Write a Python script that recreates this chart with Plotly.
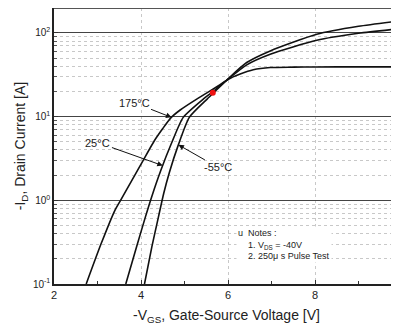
import plotly.graph_objects as go
import math

# --- data ---
vgs_175 = [2.74, 3.08, 3.40, 3.53, 3.79, 4.05, 4.31, 4.50, 4.68, 4.90, 5.28, 5.78, 6.0, 6.28, 6.58, 6.97, 7.5, 8.0, 9.0, 9.93]
id_175 = [0.1, 0.3, 0.76, 1.0, 1.73, 3.0, 5.18, 7.2, 9.6, 12.0, 16.2, 23.4, 27.8, 32.2, 36.3, 38.6, 39.0, 39.2, 39.3, 39.3]

vgs_25 = [3.65, 3.90, 4.10, 4.25, 4.45, 4.70, 4.97, 5.43, 5.65, 6.0, 6.43, 6.97, 8.04, 9.0, 9.93]
id_25 = [0.1, 0.28, 0.63, 1.12, 2.24, 4.8, 9.8, 16.2, 19.8, 28.0, 41.6, 55.7, 81.8, 99.0, 112.0]

vgs_m55 = [4.08, 4.25, 4.40, 4.52, 4.65, 4.85, 5.11, 5.52, 5.68, 6.0, 6.43, 6.97, 8.04, 9.0, 9.93]
id_m55 = [0.1, 0.28, 0.63, 1.2, 2.14, 4.47, 9.8, 16.2, 19.5, 28.3, 44.3, 61.0, 96.4, 120.0, 139.0]

red_point_x = [5.65]
red_point_y = [19.3]

x_ticks = [2, 4, 6, 8]
y_tickvals = [0.1, 1, 10, 100]
y_ticktext = ["10<sup>-1</sup>", "10<sup>0</sup>", "10<sup>1</sup>", "10<sup>2</sup>"]

FONT = "Liberation Sans, Arial, sans-serif"

fig = go.Figure()
for xs, ys in [(vgs_175, id_175), (vgs_25, id_25), (vgs_m55, id_m55)]:
    fig.add_trace(go.Scatter(x=xs, y=ys, mode="lines",
                             line=dict(color="#111", width=1.6, shape="spline", smoothing=0.6),
                             showlegend=False, hoverinfo="skip"))
fig.add_trace(go.Scatter(x=red_point_x, y=red_point_y, mode="markers",
                         marker=dict(color="#ee1111", size=6), showlegend=False))

ann_font = dict(family=FONT, size=11, color="#222")
labels = [
    ("175°C", 4.70, 9.8, 3.84, 1.167),
    ("25°C", 4.50, 2.6, 3.01, 0.69),
    ("-55°C", 4.86, 4.6, 5.77, 0.393),
]
for txt, tx, ty, ax, ay in labels:
    fig.add_annotation(x=tx, y=math.log10(ty), ax=ax, ay=ay, axref="x", ayref="y",
                       xref="x", yref="y", text=txt, showarrow=True,
                       arrowhead=2, arrowsize=1.1, arrowwidth=1, arrowcolor="#111",
                       font=ann_font, standoff=0, startstandoff=0)

fig.add_annotation(xref="paper", yref="paper", x=0.528, y=0.21, xanchor="left", yanchor="top",
                   align="left", showarrow=False, bgcolor="white",
                   text="u  Notes :<br>    1. V<sub>DS</sub> = -40V<br>    2. 250μ s Pulse Test",
                   font=dict(family=FONT, size=9, color="#222"))

fig.add_shape(type="line", xref="paper", yref="paper", x0=0, x1=1, y0=1, y1=1,
              line=dict(color="#555", width=2))

fig.update_layout(
    width=399, height=334,
    margin=dict(l=46, r=8, t=0, b=58),
    plot_bgcolor="white", paper_bgcolor="white",
    font=dict(family=FONT, size=11, color="#222"),
    xaxis=dict(range=[2, 9.93], tickvals=x_ticks, ticks="inside", ticklen=4, tickcolor="#333",
               showgrid=True, gridcolor="#c8c8c8", griddash="dot", gridwidth=1,
               showline=True, linecolor="#222", linewidth=1.5, zeroline=False, automargin=False,
               minor=dict(dtick=1, ticks="inside", ticklen=3, tickcolor="#333", showgrid=False),
               title=dict(text="-V<sub>GS</sub>, Gate-Source Voltage [V]", font=dict(size=14), standoff=10),
               tickfont=dict(size=11)),
    yaxis=dict(type="log", range=[-1, 2.298], tickvals=y_tickvals, ticktext=y_ticktext,
               ticks="inside", ticklen=4, tickcolor="#333",
               showgrid=True, gridcolor="#444", gridwidth=1.4,
               showline=True, linecolor="#222", linewidth=1.5, zeroline=False, automargin=False,
               minor=dict(dtick="D1", ticks="inside", ticklen=3, tickcolor="#555",
                          showgrid=True, gridcolor="#c8c8c8", griddash="dot", gridwidth=1),
               title=dict(text="-I<sub>D</sub>, Drain Current [A]", font=dict(size=14), standoff=4),
               tickfont=dict(size=10)),
)

fig.write_html("out.html")
